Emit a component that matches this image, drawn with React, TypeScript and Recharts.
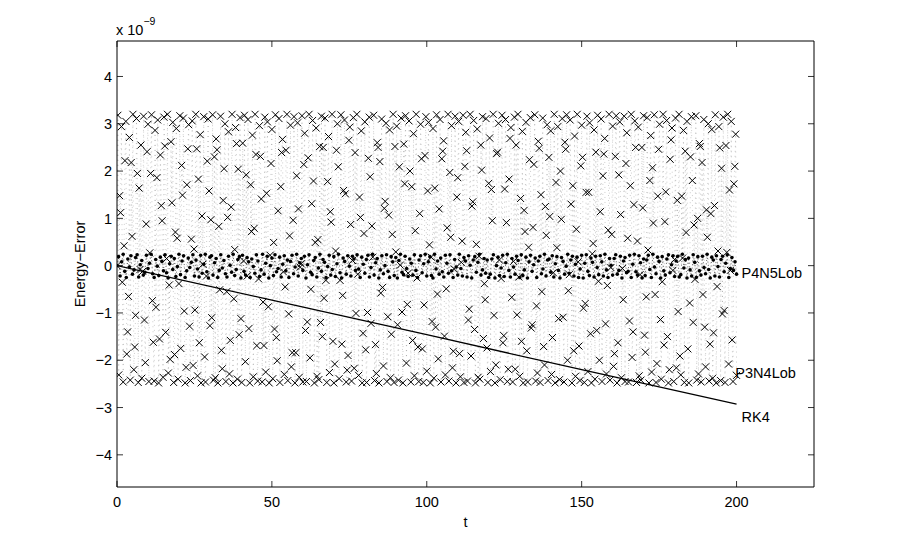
import React from 'react';
import { LineChart, Line, XAxis, YAxis, ReferenceDot } from 'recharts';

const FONT = '"Liberation Sans", Arial, Helvetica, sans-serif';
const FS = 14.5;

const X_TICKS = [0, 50, 100, 150, 200];
const Y_TICKS = [-4, -3, -2, -1, 0, 1, 2, 3, 4];
const X_DOMAIN = [0, 225];
const Y_DOMAIN = [-4.68, 4.75];

const P3N4_STEP = 200 / 700;
const P3N4LOB = [
  0,
  3.18, -2.31, 1.48, 1.12, 2.94, -0.35, -2.46, 0.42, 2.22, 3.05, -1.87, -1.4, -0.65, 2.71,
  -2.42, 2.18, 0.62, 3.2, -2.2, -1.72, -1.05, 3.11, 1.95, -2.47, 1.64, -0.08, 2.55, -2.38,
  -0.12, 3.16, -1.15, -2.05, 0.88, 2.41, 2.99, -2.45, 0.27, 1.95, 3.19, -0.74, -1.62, -2.44,
  2.86, -0.88, 1.86, 3.08, -2.48, -1.55, 2.34, 1.27, 0.95, -2.36, 3.14, 2.53, -1.41, 0.15,
  3.2, -2.27, -0.41, -1.98, 2.62, 1.33, 3.03, -2.47, -1.88, 0.71, 2.9, 0.58, -2.4, -0.38,
  3.17, -1.75, 2.12, 1.49, 3.12, -0.96, -2.48, -2.15, 1.71, 2.47, 2.98, -1.28, -2.43, 0.56,
  3.06, -2.11, 0.35, -0.94, 3.2, 2.47, -2.33, 1.83, -1.63, 2.77, -2.48, 1.05, 0.03, 3.15,
  -1.93, -2.46, -0.22, 2.21, 3.1, 1.58, -1.27, 0.97, -1.1, 3.19, -2.42, 2.3, -2.37, 2.68,
  2.45, -2.48, 0.83, -0.51, 3.16, -1.79, -2.18, 1.38, 2.05, 3.0, -2.45, -0.55, 1.02, 2.83,
  -2.29, -1.58, 1.24, 3.2, -2.48, -0.7, 0.34, 2.92, 2.58, -2.4, 2.04, -1.46, 3.13, -1.12,
  -2.47, 2.59, 0.1, 3.18, -2.03, 1.92, -0.22, 3.09, -1.33, -2.48, 1.71, 0.72, 2.76, -2.35,
  0.79, 3.2, 2.35, -1.69, -2.44, -0.28, 2.96, 2.31, 1.41, -2.46, -0.77, -1.69, 3.14, -2.25,
  1.53, 3.04, -0.87, -2.48, 0.22, 2.16, 2.88, -2.39, 0.49, -1.34, 3.19, -1.52, -2.01, 1.16,
  3.11, -2.47, 1.67, 2.39, 2.67, -0.13, -2.3, -0.45, 2.44, 3.2, -2.43, -1.02, 0.63, 2.97,
  -2.14, -1.84, 0.96, 3.15, -2.48, -1.84, 1.9, 3.02, 1.2, -2.36, -0.03, 0.04, 3.17, -2.46,
  2.14, 2.8, -1.37, -2.45, -1.19, 2.28, 3.2, -1.95, -0.5, 1.31, 3.07, 1.79, -2.48, 0.49,
  2.91, -2.34, 0.55, -2.41, 2.52, -1.2, 3.16, -1.5, 2.5, -0.69, 3.12, -0.31, -2.47, 1.78,
  2.73, -2.26, 1.14, 0.92, 3.2, -1.6, -2.48, -2.08, 0.31, 2.44, 3.0, 2.09, -2.39, -0.31,
  3.19, -1.66, -0.63, 1.59, 3.08, 1.52, -2.46, -2.21, -1.9, 2.65, 2.93, 0.87, -2.44, 0.11,
  3.13, -2.17, 2.39, -1.01, 3.2, -0.18, -2.32, 1.45, 1.02, 2.85, -2.48, -1.43, 0.68, 3.04,
  -1.78, -2.47, -0.99, 2.27, 3.14, 1.88, -1.22, 0.84, 0.18, 3.18, -2.43, -1.67, -2.28, 2.6,
  2.5, -2.48, 2.2, -0.58, 3.1, -0.46, -2.12, 1.21, 1.36, 3.01, -2.45, -1.08, 1.07, 2.87,
  -2.37, -1.45, 0.66, 3.2, -2.47, 2.52, 0.29, 2.95, -1.25, -2.42, 2.09, 0.01, 3.12, -0.98,
  -2.48, 2.57, 1.73, 3.17, -2.06, -0.82, -0.16, 3.06, 2.0, -2.46, 1.67, -1.58, 2.79, -2.33,
  0.74, 3.2, -0.26, -1.72, -2.45, 1.1, 2.99, 2.26, -1.76, -2.47, -0.83, 2.33, 3.15, -2.23,
  1.58, 3.03, 0.44, -2.48, 0.18, -1.18, 2.9, -2.38, 1.64, -1.3, 3.19, -0.6, -1.97, 1.2,
  3.09, -2.46, 2.26, 2.42, 2.64, -1.49, -2.31, -0.49, 0.8, 3.2, -2.44, 1.97, 0.6, 2.96,
  -2.16, -1.81, -0.07, 3.16, -2.48, 1.45, 1.86, 3.05, -1.86, -2.35, 0.07, 0.52, 3.18, -2.47,
  2.1, 2.82, 2.43, -2.44, -1.15, -0.92, 3.2, -1.91, 1.26, 1.35, 3.07, -1.35, -2.48, 0.45,
  2.89, -2.36, 0.2, -2.4, 2.55, 2.02, 3.15, -1.54, -0.38, -0.72, 3.11, -1.74, -2.47, 1.74,
  2.7, -2.24, 1.61, 0.95, 3.2, -1.05, -2.48, -2.1, 2.37, 2.4, 3.01, 0.12, -2.41, -0.27,
  3.18, -1.63, -1.48, 1.62, 3.09, 0.91, -2.45, -2.19, 1.83, 2.69, 2.92, -0.67, -2.46, 0.09,
  3.14, -2.19, 2.55, -1.04, 3.2, -0.24, -2.34, 1.42, -1.6, 2.84, -2.48, 1.17, 0.72, 3.03,
  -1.8, -2.46, 0.39, 2.24, 3.13, -1.32, -1.25, 0.81, 2.14, 3.19, -2.44, -0.85, -2.27, 2.63,
  2.48, -2.47, 1.5, -0.55, 3.12, -1.71, -2.1, 1.25, 0.64, 2.98, -2.43, 2.29, 1.04, 2.85,
  -2.3, -1.52, -0.15, 3.2, -2.48, 1.76, 0.38, 2.94, -1.12, -2.41, 2.0, 0.98, 3.11, -1.09,
  -2.46, 2.61, 2.46, 3.19, -2.0, -0.53, -0.19, 3.08, 1.3, -2.48, 1.69, -1.8, 2.74, -2.34,
  0.77, 3.2, 0.08, -1.7, -2.43, 2.11, 2.97, 2.29, -0.9, -2.47, -0.8, 1.55, 3.16, -2.24,
  1.55, 3.02, -1.44, -2.48, 0.25, 0.47, 2.87, -2.4, 2.4, -1.37, 3.18, -0.33, -2.0, 1.14,
  3.1, -2.45, 1.9, 2.36, 2.69, -1.23, -2.29, -0.42, 0.75, 3.2, -2.42, -0.04, 0.66, 2.95,
  -2.13, -1.86, 2.31, 3.17, -2.48, -1.63, 1.92, 3.04, 1.08, -2.37, -0.06, -0.72, 3.16, -2.45,
  2.16, 2.81, 0.58, -2.46, -1.17, 1.69, 3.2, -1.94, -1.4, 1.29, 3.06, 2.5, -2.47, 0.52,
  2.93, -2.33, -0.19, -2.42, 2.5, 1.22, 3.17, -1.47, -1.83, -0.66, 3.13, 0.33, -2.48, 1.8,
  2.75, -2.25, 2.07, 0.9, 3.19, -0.61, -2.47, -2.07, 1.47, 2.46, 2.99, -1.14, -2.4, -0.34,
  3.2, -1.68, 0.93, 1.56, 3.07, -1.5, -2.48, -2.2, 2.25, 2.66, 2.91, -0.1, -2.45, 0.13,
  3.12, -2.16, 1.38, -0.97, 3.2, -1.91, -2.31, 1.47, 0.16, 2.86, -2.47, 2.42, 0.7, 3.05,
  -1.76, -2.48, -0.79, 2.3, 3.15, 1.8, -1.2, 0.86, -0.29, 3.17, -2.42, 1.0, -2.29, 2.58,
  2.52, -2.46, 2.18, -0.61, 3.09, -1.3, -2.14, 1.18, 0.6, 3.0, -2.44, -1.66, 1.1, 2.88,
  -2.38, -1.42, 1.27, 3.19, -2.48, -0.44, 0.31, 2.94, 2.49, -2.43, 2.06, -1.02, 3.14, -0.95,
  -2.47, 2.54, 0.28, 3.2, -2.08, 1.6, -0.1, 3.05, -1.57, -2.45, 1.73, 2.1, 2.78, -2.32,
];

const P4N5_STEP = 0.5;
const P4N5LOB = [
  0,
  0.19, -0.22, 0.08, 0.24, -0.12, -0.25, 0.14, -0.03, 0.21, -0.18,
  -0.09, 0.17, 0.23, -0.24, 0.02, 0.11, -0.2, -0.14, 0.22, -0.06,
  0.05, 0.24, -0.17, -0.25, 0.13, -0.01, -0.21, 0.18, 0.09, -0.11,
  0.23, -0.15, -0.26, 0.04, 0.2, -0.08, 0.15, -0.23, -0.02, 0.24,
  -0.19, 0.1, 0.21, -0.25, -0.11, 0.16, -0.04, 0.07, 0.23, -0.22,
  0.12, -0.07, -0.24, 0.22, -0.16, 0.03, 0.24, -0.13, -0.26, 0.18,
  0.21, -0.2, 0.06, 0.15, -0.25, -0.1, 0.23, -0.05, 0.11, -0.17,
  -0.24, 0.2, 0.01, -0.14, 0.24, -0.21, -0.08, 0.13, 0.19, -0.26,
  0.22, -0.12, -0.2, 0.17, 0.08, -0.25, 0.14, -0.02, -0.16, 0.23,
  0.1, -0.23, -0.09, 0.24, -0.18, 0.05, 0.2, -0.26, 0.0, 0.16,
  -0.21, 0.23, -0.13, -0.06, 0.18, -0.24, 0.03, 0.21, -0.11, 0.12,
  -0.25, 0.09, 0.22, -0.17, -0.03, 0.24, -0.22, 0.06, 0.15, -0.1,
  0.2, -0.26, 0.02, 0.23, -0.14, -0.19, 0.11, 0.17, -0.24, -0.05,
  0.24, -0.12, 0.13, 0.07, -0.25, -0.02, 0.22, -0.2, -0.08, 0.19,
  -0.23, 0.04, 0.24, -0.15, -0.26, 0.16, 0.09, -0.18, 0.21, -0.01,
  -0.22, 0.2, 0.14, -0.1, 0.23, -0.07, -0.25, 0.18, 0.03, -0.16,
  0.13, 0.22, -0.24, -0.04, 0.24, -0.2, 0.06, 0.15, -0.26, -0.09,
  0.21, -0.17, 0.0, 0.23, -0.12, -0.25, 0.19, 0.08, -0.21, 0.17,
  -0.26, 0.11, 0.24, -0.14, -0.19, 0.2, -0.06, -0.23, 0.14, 0.05,
  -0.2, 0.23, -0.1, -0.25, 0.12, 0.21, -0.15, 0.04, 0.24, -0.22,
  0.08, 0.19, -0.21, -0.26, 0.24, -0.07, 0.1, -0.18, 0.16, -0.13,
  -0.24, 0.22, 0.05, -0.16, 0.23, -0.11, -0.25, 0.13, -0.03, -0.2,
  0.24, -0.06, -0.22, 0.17, 0.1, -0.24, 0.21, 0.01, -0.26, 0.12,
  0.19, -0.14, 0.07, 0.24, -0.2, -0.09, 0.15, -0.16, 0.12, -0.25,
  -0.18, 0.14, 0.23, -0.26, 0.0, 0.18, -0.21, -0.05, 0.22, -0.23,
  0.06, 0.24, -0.1, -0.24, 0.15, -0.03, -0.18, 0.2, 0.11, -0.25,
  0.23, -0.21, -0.09, 0.18, -0.26, 0.08, 0.22, -0.12, 0.02, 0.16,
  -0.25, 0.1, 0.2, -0.17, -0.07, 0.24, -0.22, 0.12, 0.14, -0.14,
  0.21, -0.24, 0.04, 0.19, -0.1, -0.26, 0.17, 0.09, -0.18, -0.01,
  0.24, -0.16, 0.12, 0.2, -0.22, 0.03, 0.18, -0.25, -0.07, 0.22,
  -0.26, 0.05, 0.23, -0.12, -0.21, 0.16, 0.07, -0.24, 0.2, -0.04,
  -0.19, 0.21, 0.08, -0.22, 0.24, -0.09, -0.25, 0.15, 0.01, -0.2,
  0.15, 0.23, -0.18, -0.1, 0.2, -0.26, 0.1, 0.17, -0.15, -0.12,
  0.22, -0.25, 0.03, 0.24, -0.13, -0.2, 0.21, 0.06, -0.26, 0.14,
  -0.21, 0.12, 0.22, -0.08, -0.25, 0.24, -0.03, -0.17, 0.18, 0.09,
  -0.26, 0.19, -0.11, -0.2, 0.14, 0.23, -0.15, 0.02, 0.21, -0.23,
  0.1, 0.2, -0.24, -0.19, 0.24, -0.05, 0.13, -0.26, 0.16, -0.09,
  -0.22, 0.23, 0.07, -0.25, 0.19, -0.11, -0.2, 0.2, -0.04, -0.17,
  0.24, -0.08, -0.26, 0.18, 0.12, -0.22, 0.21, -0.02, -0.24, 0.13,
  0.2, -0.13, 0.05, 0.23, -0.25, -0.06, 0.17, -0.1, 0.08, -0.18,
];

const RK4_T = [0, 50, 100, 150, 200];
const RK4 = [0, -0.73, -1.46, -2.2, -2.93];

const LABELS = [
  { name: 'P4N5Lob', t: 200, e: -0.16 },
  { name: 'P3N4Lob', t: 198, e: -2.26 },
  { name: 'RK4', t: 200, e: -3.2 },
];

const p3Data = P3N4LOB.map((v, i) => ({ t: i * P3N4_STEP, e: v }));
const p4Data = P4N5LOB.map((v, i) => ({ t: i * P4N5_STEP, e: v }));
const rkData = RK4.map((v, i) => ({ t: RK4_T[i], e: v }));

const fmt = (v: number) => (v < 0 ? '\u2212' + Math.abs(v) : String(v));
const TICK_LEN = 6;

const BottomTick = (p: any) => (
  <g>
    <line x1={p.x} y1={p.y} x2={p.x} y2={p.y - TICK_LEN} stroke="#000" strokeWidth={0.8} />
    <text x={p.x} y={p.y + 20} textAnchor="middle" fontSize={FS} fontFamily={FONT} fill="#000">
      {fmt(p.payload.value)}
    </text>
  </g>
);
const TopTick = (p: any) => (
  <line x1={p.x} y1={p.y} x2={p.x} y2={p.y + TICK_LEN} stroke="#000" strokeWidth={0.8} />
);
const LeftTick = (p: any) => (
  <g>
    <line x1={p.x} y1={p.y} x2={p.x + TICK_LEN} y2={p.y} stroke="#000" strokeWidth={0.8} />
    <text x={p.x - 5} y={p.y} dy="0.36em" textAnchor="end" fontSize={FS} fontFamily={FONT} fill="#000">
      {fmt(p.payload.value)}
    </text>
  </g>
);
const RightTick = (p: any) => (
  <line x1={p.x} y1={p.y} x2={p.x - TICK_LEN} y2={p.y} stroke="#000" strokeWidth={0.8} />
);

const XMark = (p: any) => {
  const { cx, cy, index } = p;
  if (cx == null || cy == null) return <g key={`x-${index}`} />;
  const s = 3.5;
  return (
    <path
      key={`x-${index}`}
      d={`M${cx - s},${cy - s}L${cx + s},${cy + s}M${cx - s},${cy + s}L${cx + s},${cy - s}`}
      stroke="#000"
      strokeWidth={1}
      fill="none"
    />
  );
};

const DotMark = (p: any) => {
  const { cx, cy, index } = p;
  if (cx == null || cy == null) return <g key={`d-${index}`} />;
  return <circle key={`d-${index}`} cx={cx} cy={cy} r={1.8} fill="#000" />;
};

const SeriesLabel = (name: string) => (p: any) => {
  const vb = p.viewBox || {};
  return (
    <text x={vb.x + 5} y={vb.y} dy="0.36em" fontSize={FS} fontFamily={FONT} fill="#000">
      {name}
    </text>
  );
};

export default function App() {
  return (
    <div style={{ position: 'absolute', left: 0, top: 0, width: 900, height: 549, background: '#fff', fontFamily: FONT }}>
      <LineChart width={900} height={549} margin={{ top: 0, right: 0, bottom: 0, left: 0 }}>
        <XAxis
          xAxisId="b"
          type="number"
          dataKey="t"
          domain={X_DOMAIN}
          ticks={X_TICKS}
          interval={0}
          orientation="bottom"
          height={62}
          tickSize={0}
          tickMargin={0}
          tickLine={false}
          axisLine={{ stroke: '#000', strokeWidth: 1 }}
          tick={BottomTick}
          allowDataOverflow
          label={{
            content: (p: any) => {
              const vb = p.viewBox;
              return (
                <text x={vb.x + vb.width / 2} y={vb.y + 40} textAnchor="middle" fontSize={FS} fontFamily={FONT} fill="#000">
                  t
                </text>
              );
            },
          }}
        />
        <XAxis
          xAxisId="top"
          type="number"
          dataKey="t"
          domain={X_DOMAIN}
          ticks={X_TICKS}
          interval={0}
          orientation="top"
          height={41}
          tickSize={0}
          tickMargin={0}
          tickLine={false}
          axisLine={{ stroke: '#000', strokeWidth: 1 }}
          tick={TopTick}
          allowDataOverflow
          label={{
            content: (p: any) => {
              const vb = p.viewBox;
              return (
                <text x={vb.x - 1} y={vb.y + vb.height - 6} fontSize={FS} fontFamily={FONT} fill="#000">
                  <tspan>x 10</tspan>
                  <tspan dy={-10} fontSize={10.5}>{'\u22129'}</tspan>
                </text>
              );
            },
          }}
        />
        <YAxis
          yAxisId="l"
          type="number"
          domain={Y_DOMAIN}
          ticks={Y_TICKS}
          interval={0}
          orientation="left"
          width={117}
          tickSize={0}
          tickMargin={0}
          tickLine={false}
          axisLine={{ stroke: '#000', strokeWidth: 1 }}
          tick={LeftTick}
          allowDataOverflow
          label={{
            content: (p: any) => {
              const vb = p.viewBox;
              const cx = vb.x + 85;
              const cy = vb.y + vb.height / 2;
              return (
                <text x={cx} y={cy} transform={`rotate(-90 ${cx} ${cy})`} textAnchor="middle" fontSize={FS} fontFamily={FONT} fill="#000">
                  {'Energy\u2212Error'}
                </text>
              );
            },
          }}
        />
        <YAxis
          yAxisId="r"
          type="number"
          domain={Y_DOMAIN}
          ticks={Y_TICKS}
          interval={0}
          orientation="right"
          width={86}
          tickSize={0}
          tickMargin={0}
          tickLine={false}
          axisLine={{ stroke: '#000', strokeWidth: 1 }}
          tick={RightTick}
          allowDataOverflow
        />
        <Line
          xAxisId="b"
          yAxisId="l"
          data={p3Data}
          dataKey="e"
          stroke="#000"
          strokeOpacity={0.4}
          strokeWidth={0.5}
          strokeDasharray="1 4"
          dot={XMark}
          activeDot={false}
          isAnimationActive={false}
        />
        <Line
          xAxisId="b"
          yAxisId="l"
          data={p4Data}
          dataKey="e"
          stroke="#000"
          strokeWidth={0.6}
          strokeDasharray="1 2.5"
          dot={DotMark}
          activeDot={false}
          isAnimationActive={false}
        />
        <Line
          xAxisId="b"
          yAxisId="l"
          data={rkData}
          dataKey="e"
          stroke="#000"
          strokeWidth={1.3}
          dot={false}
          activeDot={false}
          isAnimationActive={false}
        />
        {LABELS.map((l) => (
          <ReferenceDot
            key={l.name}
            xAxisId="b"
            yAxisId="l"
            x={l.t}
            y={l.e}
            r={0}
            fill="none"
            stroke="none"
            ifOverflow="visible"
            label={{ content: SeriesLabel(l.name) }}
          />
        ))}
      </LineChart>
    </div>
  );
}
